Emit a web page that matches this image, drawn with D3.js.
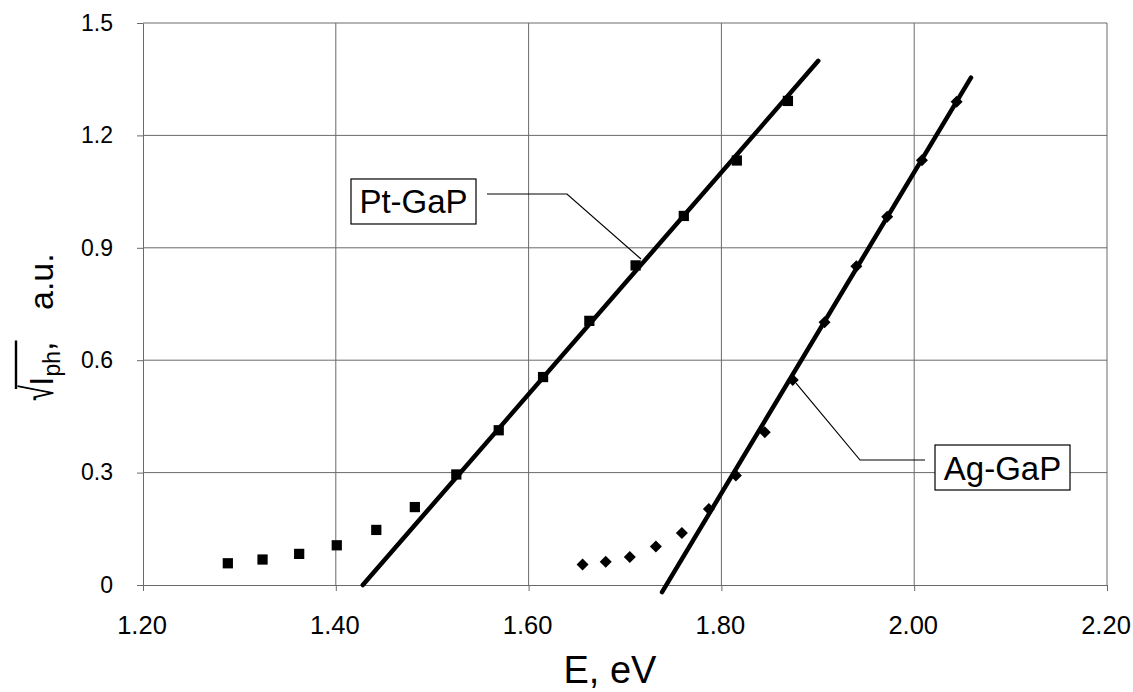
<!DOCTYPE html>
<html><head><meta charset="utf-8">
<script src="https://cdn.jsdelivr.net/npm/d3@7"></script>
<style>
body{margin:0;background:#fff}
svg{display:block}
text{font-family:Arial,"Liberation Sans",sans-serif;fill:#000}
</style>
</head><body>
<svg id="chart" width="1133" height="692"></svg>
<script>
// ---- data ----
const xTicks = [1.20, 1.40, 1.60, 1.80, 2.00, 2.20];
const xTickLabels = ["1.20", "1.40", "1.60", "1.80", "2.00", "2.20"];
const yTicks = [0, 0.3, 0.6, 0.9, 1.2, 1.5];
const yTickLabels = ["0", "0.3", "0.6", "0.9", "1.2", "1.5"];

const ptE = [1.288, 1.324, 1.362, 1.401, 1.442, 1.482, 1.525, 1.569, 1.615, 1.663, 1.711, 1.761, 1.816, 1.869];
const ptI = [0.058, 0.068, 0.083, 0.106, 0.147, 0.208, 0.295, 0.413, 0.555, 0.705, 0.853, 0.985, 1.133, 1.292];
const agE = [1.656, 1.680, 1.705, 1.732, 1.759, 1.787, 1.815, 1.845, 1.874, 1.907, 1.940, 1.972, 2.008, 2.044];
const agI = [0.055, 0.062, 0.075, 0.103, 0.139, 0.203, 0.292, 0.408, 0.547, 0.701, 0.851, 0.983, 1.134, 1.290];

const ptFitE = [1.428, 1.9005];
const ptFitI = [0.0, 1.399];
const agFitE = [1.7384, 2.0589];
const agFitI = [-0.019, 1.354];

const seriesNames = ["Pt-GaP", "Ag-GaP"];
const calloutBoxE = [1.4806, 2.0916];
const calloutBoxI = [1.0236, 0.3136];
const calloutElbowE = [1.6398, 1.9438];
const calloutElbowI = [1.0436, 0.3336];
const calloutTipE = [1.7166, 1.8774];
const calloutTipI = [0.870, 0.539];

const xTitle = "E, eV";

// ---- chart ----
const svg = d3.select("#chart");
const mLeft = 143, mRight = 1107, mTop = 23, mBottom = 585;
const x = d3.scaleLinear().domain([1.2, 2.2]).range([mLeft, mRight]);
const y = d3.scaleLinear().domain([0, 1.5]).range([mBottom, mTop]);
const gridColor = "#6a6a6a";

// gridlines
svg.append("g").selectAll("line").data(xTicks.slice(1)).join("line")
  .attr("x1", d => x(d)).attr("x2", d => x(d)).attr("y1", mTop).attr("y2", mBottom)
  .attr("stroke", gridColor).attr("stroke-width", 1);
svg.append("g").selectAll("line").data(yTicks.slice(1)).join("line")
  .attr("x1", mLeft).attr("x2", mRight).attr("y1", d => y(d)).attr("y2", d => y(d))
  .attr("stroke", gridColor).attr("stroke-width", 1);

// axes
const xAxis = d3.axisBottom(x).tickValues(xTicks).tickFormat((d, i) => xTickLabels[i]).tickSizeInner(6).tickSizeOuter(0).tickPadding(25);
const gx = svg.append("g").attr("transform", `translate(0,${mBottom})`).call(xAxis);
gx.select(".domain").attr("stroke", gridColor);
gx.selectAll(".tick line").attr("stroke", gridColor);
gx.selectAll(".tick text").attr("font-size", 25.5).attr("font-family", "Arial, 'Liberation Sans', sans-serif").attr("fill", "#000").attr("dx", -1.5);

const yAxis = d3.axisLeft(y).tickValues(yTicks).tickFormat((d, i) => yTickLabels[i]).tickSizeInner(6).tickSizeOuter(0).tickPadding(24);
const gy = svg.append("g").attr("transform", `translate(${mLeft},0)`).call(yAxis);
gy.select(".domain").attr("stroke", gridColor);
gy.selectAll(".tick line").attr("stroke", gridColor);
gy.selectAll(".tick text").attr("font-size", 23).attr("font-family", "Arial, 'Liberation Sans', sans-serif").attr("fill", "#000");

// fit lines
const line = d3.line().x(d => x(d[0])).y(d => y(d[1]));
[[ptFitE, ptFitI], [agFitE, agFitI]].forEach(([es, is]) => {
  svg.append("path").attr("d", line(es.map((e, i) => [e, is[i]])))
    .attr("fill", "none").attr("stroke", "#000").attr("stroke-width", 4.5).attr("stroke-linecap", "round");
});

// markers
const sq = d3.symbol().type(d3.symbolSquare).size(105);
svg.append("g").selectAll("path").data(ptE.map((e, i) => [e, ptI[i]])).join("path")
  .attr("d", sq).attr("transform", d => `translate(${x(d[0])},${y(d[1])})`).attr("fill", "#000");
const dm = d3.symbol().type(d3.symbolSquare).size(72);
svg.append("g").selectAll("path").data(agE.map((e, i) => [e, agI[i]])).join("path")
  .attr("d", dm).attr("transform", d => `translate(${x(d[0])},${y(d[1])}) rotate(45)`).attr("fill", "#000");

// callouts
seriesNames.forEach((name, i) => {
  const cx = x(calloutBoxE[i]), cy = y(calloutBoxI[i]);
  const bw = i === 0 ? 125 : 135, bh = 45;
  const g = svg.append("g");
  g.append("rect").attr("x", cx - bw / 2).attr("y", cy - bh / 2).attr("width", bw).attr("height", bh)
    .attr("fill", "#fff").attr("stroke", "#000").attr("stroke-width", 1.2);
  g.append("text").attr("x", cx).attr("y", cy + 12).attr("text-anchor", "middle").attr("font-size", 33).text(name);
  const startX = i === 0 ? cx + bw / 2 + 11 : cx - bw / 2 - 10;
  const ex = x(calloutElbowE[i]), ey = y(calloutElbowI[i]);
  svg.append("path").attr("d", `M${startX},${ey}L${ex},${ey}L${x(calloutTipE[i])},${y(calloutTipI[i])}`)
    .attr("fill", "none").attr("stroke", "#000").attr("stroke-width", 1.2);
});

// x title
svg.append("text").attr("x", 610).attr("y", 683).attr("text-anchor", "middle").attr("font-size", 38).text(xTitle);

// y title: sqrt(I_ph), a.u.
const yt = svg.append("g").attr("transform", "translate(53,401) rotate(-90)");
yt.append("text").attr("transform", "scale(0.8,1.25)").attr("font-size", 36).text("\u221A");
const t = yt.append("text").attr("x", 15).attr("y", 0).attr("font-size", 34);
t.append("tspan").text("I");
t.append("tspan").attr("font-size", 23).attr("dy", 7).text("ph");
t.append("tspan").attr("dy", -7).text(",");
t.append("tspan").attr("x", 91).text("a.u.");
const node = t.node();
const s0 = node.getStartPositionOfChar(0).x;
const s1 = node.getEndPositionOfChar(3).x;
yt.append("line").attr("x1", s0 - 3).attr("x2", s1 + 1).attr("y1", -37).attr("y2", -37)
  .attr("stroke", "#000").attr("stroke-width", 2.4);
</script>
</body></html>
